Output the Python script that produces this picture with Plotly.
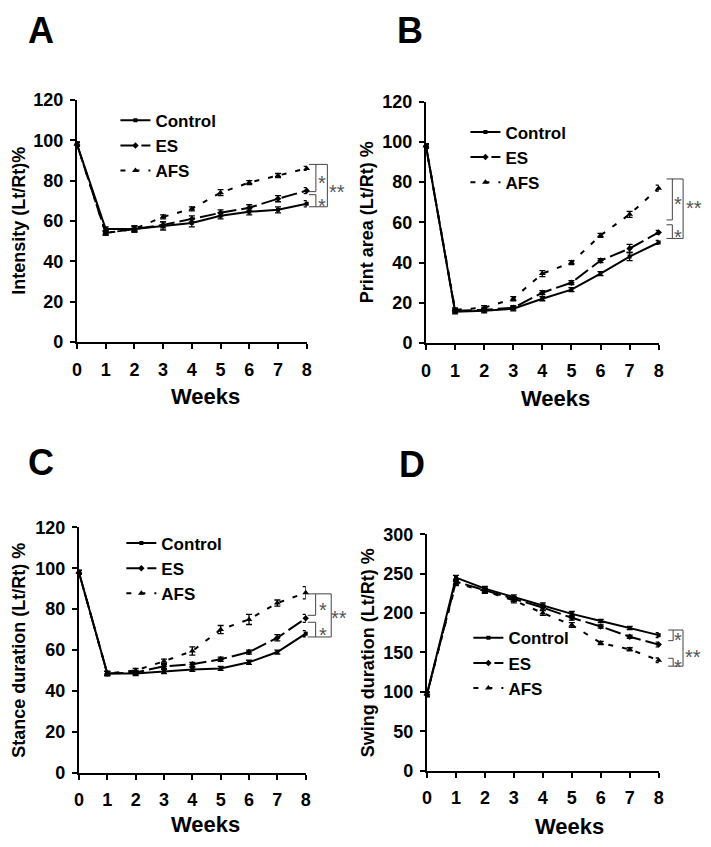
import plotly.graph_objects as go

W, H = 711, 847
FONT = "Liberation Sans, Arial, sans-serif"

weeks = [0, 1, 2, 3, 4, 5, 6, 7, 8]
group_names = ["Control", "ES", "AFS"]

# Panel A: Intensity
A_control = [98, 56, 56, 57.5, 59, 62.5, 64.5, 65.5, 68.5]
A_es = [98, 54, 56, 58, 61, 64, 66.5, 71, 75]
A_afs = [98, 54, 56, 62, 66, 74, 79, 82.5, 86]
A_control_err = [1, 1, 1.5, 2, 2, 1.5, 1.5, 1.5, 1.5]
A_es_err = [1, 1, 1.5, 1.5, 1.5, 1.5, 1.5, 1.5, 1.5]
A_afs_err = [1, 1, 1, 1, 1, 1.5, 1, 1, 1]

# Panel B: Print area
B_control = [98, 15.5, 16, 17, 22, 26.5, 34.5, 43, 50]
B_es = [98, 16, 16.5, 17.5, 25, 30, 41, 47, 55]
B_afs = [98, 16.5, 17.5, 22, 34.5, 40, 53.5, 64, 77]
B_control_err = [1, 1, 1, 1, 1, 1, 1, 2, 1]
B_es_err = [1, 1, 1, 1, 1, 1, 1, 2, 1]
B_afs_err = [1, 1, 1, 1, 1.5, 1, 1, 1.5, 1.5]

# Panel C: Stance duration
C_control = [98, 48.5, 48.5, 49.5, 50.5, 51, 54, 59, 68]
C_es = [98, 48.5, 49, 52, 53, 55.5, 59, 66, 75.5]
C_afs = [98, 48.5, 50, 54.5, 59.5, 70, 75, 83, 88]
C_control_err = [1, 1, 1, 1, 1, 1, 1, 1, 1.5]
C_es_err = [1, 1, 1, 1, 1, 1, 1, 1.5, 2]
C_afs_err = [1, 1, 1, 1, 2, 2, 2.5, 1.5, 3]

# Panel D: Swing duration
D_control = [97, 245, 231, 220, 210, 199, 190, 181, 172]
D_es = [97, 240, 229, 218, 207, 194, 183, 170, 160]
D_afs = [97, 238, 228, 216, 200, 185, 162, 154, 140]
D_control_err = [3, 3, 3, 3, 3, 3, 2, 2, 3]
D_es_err = [3, 3, 3, 3, 3, 3, 2, 2, 3]
D_afs_err = [3, 3, 3, 3, 3, 3, 2, 2, 3]

panel_letters = ["A", "B", "C", "D"]
y_titles = ["Intensity (Lt/Rt)%", "Print area (Lt/Rt) %",
            "Stance duration (Lt/Rt) %", "Swing duration (Lt/Rt) %"]
x_title = "Weeks"
y_ranges = [(0, 120, 20), (0, 120, 20), (0, 120, 20), (0, 300, 50)]

# significance brackets (week units for x, data units for y)
brackets = [
    dict(y=[88, 74.5, 73, 67], xl=8.08, xi=8.32, xo=8.72, xs=8.53, xss=9.07, yss=77),
    dict(y=[81.6, 61.2, 58.8, 52], xl=8.27, xi=8.47, xo=8.84, xs=8.67, xss=9.2, yss=69.5),
    dict(y=[87.5, 77, 73.6, 66.4], xl=8.07, xi=8.35, xo=8.9, xs=8.62, xss=9.18, yss=78),
    dict(y=[178.5, 165, 142.6, 132.6], xl=8.33, xi=8.5, xo=8.84, xs=8.67, xss=9.18, yss=151),
]

series = [
    (A_control, A_es, A_afs, A_control_err, A_es_err, A_afs_err),
    (B_control, B_es, B_afs, B_control_err, B_es_err, B_afs_err),
    (C_control, C_es, C_afs, C_control_err, C_es_err, C_afs_err),
    (D_control, D_es, D_afs, D_control_err, D_es_err, D_afs_err),
]

# layout geometry in pixels: (left, right, top, bottom)
boxes = [(73, 306, 92, 340), (427, 663, 94, 341), (75, 305, 530, 781), (428, 663, 537, 779)]
legend_pos = [(112, 95), (467, 107), (118, 528), (470, 625)]
letter_pos = [(37, 21), (411, 21), (37, 463), (413, 465)]
ytitle_x = [14, 368, 14, 369]
weeks_pos = [(203, 396), (558, 398), (203, 834), (573, 836)]


def px(x):
    return x / W


def py(y):
    return 1 - y / H


styles = [
    dict(dash="solid", symbol="square", size=4),
    dict(dash="16px,5px", symbol="diamond", size=5),
    dict(dash="5px,9px", symbol="triangle-up", size=6),
]

fig = go.Figure()
layout = dict(
    width=W, height=H, margin=dict(l=0, r=0, t=0, b=0),
    paper_bgcolor="white", plot_bgcolor="white",
    font=dict(family=FONT, color="black"),
    annotations=[], shapes=[],
)

for i in range(4):
    ax = "" if i == 0 else str(i + 1)
    xa, ya = "x" + ax, "y" + ax
    leg = "legend" + ax
    vals = series[i]
    for g in range(3):
        st = styles[g]
        fig.add_trace(go.Scatter(
            x=weeks, y=vals[g], name=group_names[g], mode="lines+markers",
            xaxis=xa, yaxis=ya, legend=leg, cliponaxis=False,
            line=dict(color="black", width=2, dash=st["dash"]),
            marker=dict(color="black", symbol=st["symbol"], size=st["size"]),
            error_y=dict(type="data", array=vals[g + 3], color="black",
                         thickness=1.3, width=3),
        ))
    l, r, t, b = boxes[i]
    y0, y1, dt = y_ranges[i]
    layout["xaxis" + ax] = dict(
        domain=[px(l), px(r)], range=[0, 8], anchor=ya,
        tickvals=weeks, ticks="outside", ticklen=5, tickwidth=2, tickcolor="black",
        showline=True, linecolor="black", linewidth=2, showgrid=False, zeroline=False,
        tickfont=dict(family=FONT, size=18, color="black", weight="bold"),
        ticklabelstandoff=5,
    )
    layout["yaxis" + ax] = dict(
        domain=[py(b), py(t)], range=[y0, y1], anchor=xa, dtick=dt, tick0=0,
        ticks="outside", ticklen=5, tickwidth=2, tickcolor="black",
        showline=True, linecolor="black", linewidth=2, showgrid=False, zeroline=False,
        tickfont=dict(family=FONT, size=18, color="black", weight="bold"),
        ticklabelstandoff=3,
    )
    lx, ly = legend_pos[i]
    layout[leg] = dict(
        x=px(lx), y=py(ly), xanchor="left", yanchor="top", bgcolor="rgba(0,0,0,0)",
        font=dict(family=FONT, size=17, color="black", weight="bold"),
        traceorder="normal", itemwidth=30, tracegroupgap=0,
    )
    # panel letter
    ltx, lty = letter_pos[i]
    layout["annotations"].append(dict(
        text="<b>%s</b>" % panel_letters[i], x=px(ltx), y=py(lty), xref="paper", yref="paper",
        showarrow=False, font=dict(family=FONT, size=36, color="black"),
        xanchor="center", yanchor="middle"))
    # y title
    layout["annotations"].append(dict(
        text="<b>%s</b>" % y_titles[i], x=px(ytitle_x[i]), y=(py(b) + py(t)) / 2,
        xref="paper", yref="paper", textangle=-90, showarrow=False,
        font=dict(family=FONT, size=18, color="black"), xanchor="center", yanchor="middle"))
    # x title
    wx, wy = weeks_pos[i]
    layout["annotations"].append(dict(
        text="<b>%s</b>" % x_title, x=px(wx), y=py(wy), xref="paper", yref="paper",
        showarrow=False, font=dict(family=FONT, size=22, color="black"),
        xanchor="center", yanchor="middle"))
    # brackets
    br = brackets[i]
    y_a, y_b, y_c, y_d = br["y"]
    xd = xa + " domain"

    def fx(v):
        return v / 8.0

    segs = [
        (br["xl"], y_a, br["xo"], y_a),
        (br["xi"], y_a, br["xi"], y_b),
        (br["xl"], y_b, br["xi"], y_b),
        (br["xl"], y_c, br["xi"], y_c),
        (br["xi"], y_c, br["xi"], y_d),
        (br["xl"], y_d, br["xo"], y_d),
        (br["xo"], y_a, br["xo"], y_d),
    ]
    for (x0, yy0, x1, yy1) in segs:
        layout["shapes"].append(dict(
            type="line", xref=xd, yref=ya, x0=fx(x0), x1=fx(x1), y0=yy0, y1=yy1,
            line=dict(color="#444444", width=1)))
    star_font = dict(family=FONT, size=20, color="#555555")
    for (sx, sy, txt) in [(br["xs"], (y_a + y_b) / 2, "*"), (br["xs"], (y_c + y_d) / 2, "*"),
                          (br["xss"], br["yss"], "**")]:
        layout["annotations"].append(dict(
            text=txt, x=fx(sx), y=sy, xref=xd, yref=ya, showarrow=False, font=star_font,
            xanchor="center", yanchor="middle", yshift=-5))

fig.update_layout(**layout)
fig.write_html("out.html", config={"displayModeBar": False},
               post_script="document.body.style.margin='0px';")
